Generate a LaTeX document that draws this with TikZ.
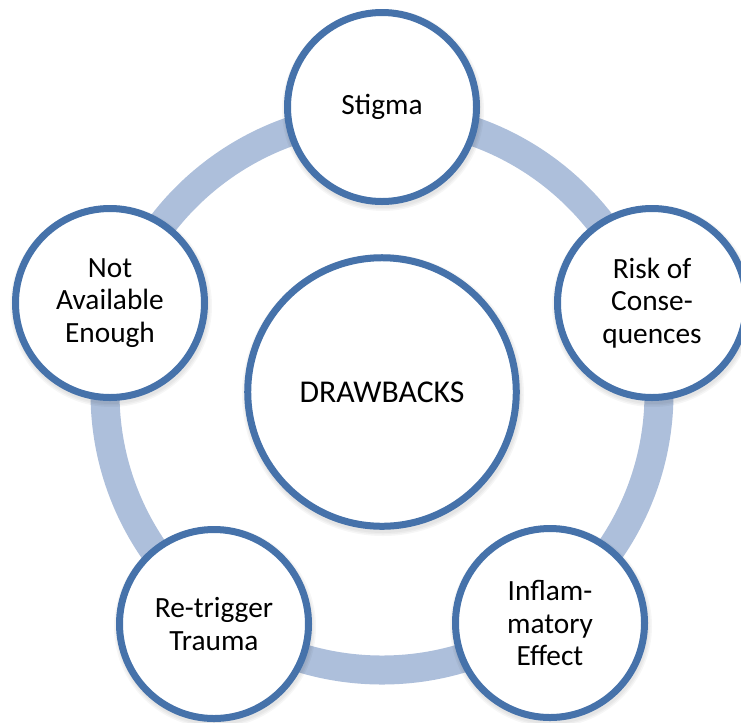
\documentclass[tikz,border=0pt]{standalone}
\usepackage{fontspec}
\setmainfont{Carlito}
\definecolor{ringblue}{HTML}{ADBFDB}
\definecolor{edgeblue}{HTML}{4672AA}
\begin{document}
\begin{tikzpicture}[x=0.75pt,y=-0.75pt,
  bubble/.style={circle, draw=edgeblue, line width=5.25pt, fill=white,
    minimum size=141.75pt, inner sep=0pt, align=center,
    font=\fontsize{22}{24.4}\selectfont},
  hub/.style={bubble, minimum size=201.4pt, font=\fontsize{23.8}{26}\selectfont},
  shade/.style={fill=black, fill opacity=0.035, draw=none}]
\useasboundingbox (0,0) rectangle (741,722);
\coordinate (ringc) at (382,393);
\draw[ringblue, line width=21.75pt] (ringc) circle[radius=277];
% soft shadows
\foreach \cx/\cy/\r in {382/107/98, 652/303/98, 550/623/98, 214/624/98, 110/303/98, 382/392/138}{
  \foreach \d in {1.5,3,4.5}{
    \fill[shade] (\cx+1,\cy+3) circle[radius=\r+\d-1.5];
  }
}
\node[hub] (hub) at (382,392) {DRAWBACKS};
\node[bubble] (stigma) at (382,107) {Stigma};
\node[bubble] (risk) at (652,303) {Risk of\\Conse-\\quences};
\node[bubble] (inflam) at (550,623) {Inflam-\\matory\\Effect};
\node[bubble] (retrig) at (214,624) {Re-trigger\\Trauma};
\node[bubble] (notavail) at (110,303) {Not\\Available\\Enough};
\end{tikzpicture}
\end{document}
